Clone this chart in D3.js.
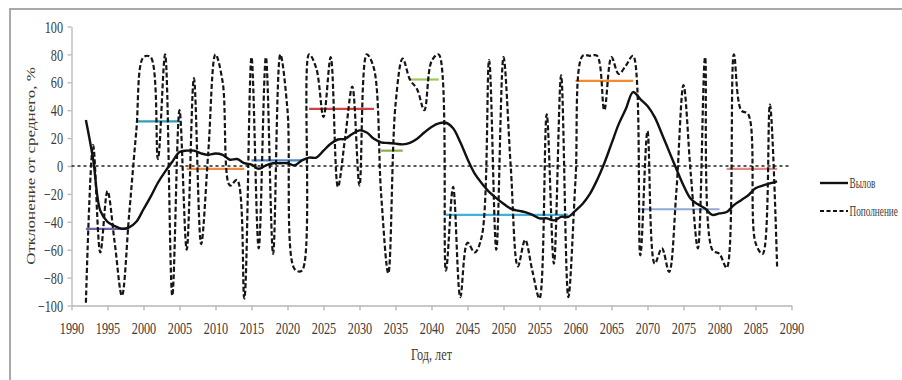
<!DOCTYPE html>
<html>
<head>
<meta charset="utf-8">
<script src="https://cdn.jsdelivr.net/npm/d3@7"></script>
<style>
  html, body { margin: 0; padding: 0; background: #fff; overflow: hidden; }
  svg { display: block; font-family: "Liberation Serif", "Times New Roman", serif; }
</style>
</head>
<body>
<svg id="chart" width="902" height="380"></svg>
<script>
// ---------- data ----------
const years = d3.range(1992, 2089);

const catchSeries = [ // "Вылов"
  33, 5, -32, -40, -43, -45, -44, -40, -31, -22,
  -12, -4, 3, 10, 11, 11, 9, 8, 9, 8,
  4.5, 5, 2, 1, -2, 0.5, 2, 2, 2, 0.5,
  4, 6, 6, 11, 16, 19, 19.5, 23, 25.5, 24,
  19.5, 17, 16.5, 16, 15.5, 16.5, 19.5, 24, 28, 30.5,
  31, 27, 17, 5, -5.5, -12.5, -18.5, -23, -27, -30.5,
  -32, -33, -35, -37.5, -37.5, -39, -36.5, -36.5, -32, -27,
  -20, -10, 2, 16, 30, 41, 53, 48, 43, 35,
  23, 10.5, -2, -14, -23.5, -27.5, -30.5, -35, -34, -33,
  -28, -24.5, -21, -16, -14, -12.5, -11
];

const recruitSeries = [ // "Пополнение"
  -98, 15, -62, -18, -55, -93, -35, 25, 78, 78,
  5, 80, -93, 40, -60, 63, -56, 10, 80, 60,
  -14, -10, -95, 78, -59, 78, -63, 80, 40, -74,
  -75, 80, 70, 35, 78, -15, 20, 57, -14, 80,
  70, -20, -77, 44, 77, 62, 55, 40, 75, 80,
  -75, -15, -94, -55, -62, -50, 76, -60, 78, 0,
  -72, -53, -75, -95, 37, -70, 65, -94, -10, 79,
  79, 79, 40, 78, 66, 72, 79, -64, 25, -70,
  -59, -76, -19, 58, -5, -59, 78, -60, -63, -73,
  80, 40, 37, -55, -63, 44, -72
];

// period means (start year, end year, value)
const periodStart = [1992, 1999, 2006, 2015, 2023, 2033, 2037, 2042, 2060, 2069, 2081];
const periodEnd   = [1998, 2005, 2014, 2022, 2032, 2036, 2041, 2059, 2068, 2080, 2088];
const periodMean  = [-45, 32, -2, 4, 41, 11, 62, -35, 61, -31, -2];
const periodColor = ["#7461a6", "#2f9fb8", "#f08a3c", "#4f86cc", "#d0403c", "#86b04a",
                     "#9cc85c", "#3fb2d8", "#f58a2c", "#90a9d8", "#e38a88"];

const xTicks = d3.range(1990, 2091, 5);
const yTicks = d3.range(-100, 101, 20);

const seriesNames = ["Вылов", "Пополнение"];
const xTitle = "Год, лет";
const yTitle = "Отклонение от среднего, %";

// ---------- layout ----------
const svg = d3.select("#chart");
const X0 = 71.5, X1 = 791.5, Y0 = 305.5, Y1 = 26.5;
const SQ = 0.72; // horizontal squeeze of the text
const x = d3.scaleLinear().domain([1990, 2090]).range([X0, X1]);
const y = d3.scaleLinear().domain([-100, 100]).range([Y0, Y1]);

// outer frame
svg.append("rect")
  .attr("x", 10).attr("y", 9).attr("width", 920).attr("height", 400)
  .attr("fill", "none").attr("stroke", "#a9a9a9").attr("stroke-width", 2);

const axisColor = "#b7b7b7";
const textColor = "#3a3a3a";

// y axis
const gy = svg.append("g").attr("transform", `translate(${X0},0)`)
  .call(d3.axisLeft(y).tickValues(yTicks).tickSize(4).tickSizeOuter(0).tickFormat(d3.format("d")));
gy.select(".domain").attr("stroke", axisColor).attr("stroke-width", 1.3);
gy.selectAll(".tick line").attr("stroke", axisColor).attr("stroke-width", 1.3);
gy.selectAll(".tick text")
  .attr("x", -8.5 / SQ).attr("dy", "0.33em")
  .attr("transform", `scale(${SQ},1)`)
  .attr("fill", textColor).style("font-size", "17px")
  .style("font-family", "'Liberation Serif', serif");

// x axis
const gx = svg.append("g").attr("transform", `translate(0,${Y0})`)
  .call(d3.axisBottom(x).tickValues(xTicks).tickSize(5).tickSizeOuter(0).tickFormat(d3.format("d")));
gx.select(".domain").attr("stroke", axisColor).attr("stroke-width", 1.3);
gx.selectAll(".tick line").attr("stroke", axisColor).attr("stroke-width", 1.3);
gx.selectAll(".tick text")
  .attr("y", 28.5).attr("dy", 0)
  .attr("transform", `scale(${SQ},1)`)
  .attr("fill", textColor).style("font-size", "17px")
  .style("font-family", "'Liberation Serif', serif");

// zero line
svg.append("line")
  .attr("x1", x(1990)).attr("x2", x(2090)).attr("y1", y(0)).attr("y2", y(0))
  .attr("stroke", "#222").attr("stroke-width", 1.3).attr("stroke-dasharray", "3,3");

// period mean segments
svg.append("g").selectAll("line")
  .data(periodMean.map((v, i) => ({ s: periodStart[i], e: periodEnd[i], v, c: periodColor[i] })))
  .join("line")
  .attr("x1", d => x(d.s)).attr("x2", d => x(d.e))
  .attr("y1", d => y(d.v)).attr("y2", d => y(d.v))
  .attr("stroke", d => d.c).attr("stroke-width", 2.2);

// series lines
const line = d3.line()
  .x(d => x(d[0])).y(d => y(d[1]))
  .curve(d3.curveCatmullRom.alpha(0.5));

svg.append("path")
  .datum(years.map((yr, i) => [yr, recruitSeries[i]]))
  .attr("d", line)
  .attr("fill", "none").attr("stroke", "#151515").attr("stroke-width", 2.2)
  .attr("stroke-dasharray", "5,2.5");

svg.append("path")
  .datum(years.map((yr, i) => [yr, catchSeries[i]]))
  .attr("d", line)
  .attr("fill", "none").attr("stroke", "#111").attr("stroke-width", 2.4)
  .attr("stroke-linejoin", "round");

// axis titles
svg.append("text")
  .attr("transform", `translate(${(X0 + X1) / 2},360) scale(${SQ},1)`)
  .attr("text-anchor", "middle").attr("fill", textColor)
  .style("font-size", "17px").text(xTitle);

svg.append("text")
  .attr("transform", `translate(35,${y(0)}) scale(${SQ},1) rotate(-90)`)
  .attr("text-anchor", "middle").attr("fill", textColor)
  .style("font-size", "17px").text(yTitle);

// legend
const legendY = [183, 211];
const legendDash = [null, "4,2.5"];
const legendW = [2.4, 2.2];
const lg = svg.append("g");
seriesNames.forEach((name, i) => {
  lg.append("line")
    .attr("x1", 820).attr("x2", 848).attr("y1", legendY[i]).attr("y2", legendY[i])
    .attr("stroke", "#111").attr("stroke-width", legendW[i])
    .attr("stroke-dasharray", legendDash[i]);
  lg.append("text")
    .attr("transform", `translate(849.5,${legendY[i] + 4.5}) scale(0.66,1)`)
    .attr("fill", textColor).style("font-size", "14px").text(name);
});
</script>
</body>
</html>
